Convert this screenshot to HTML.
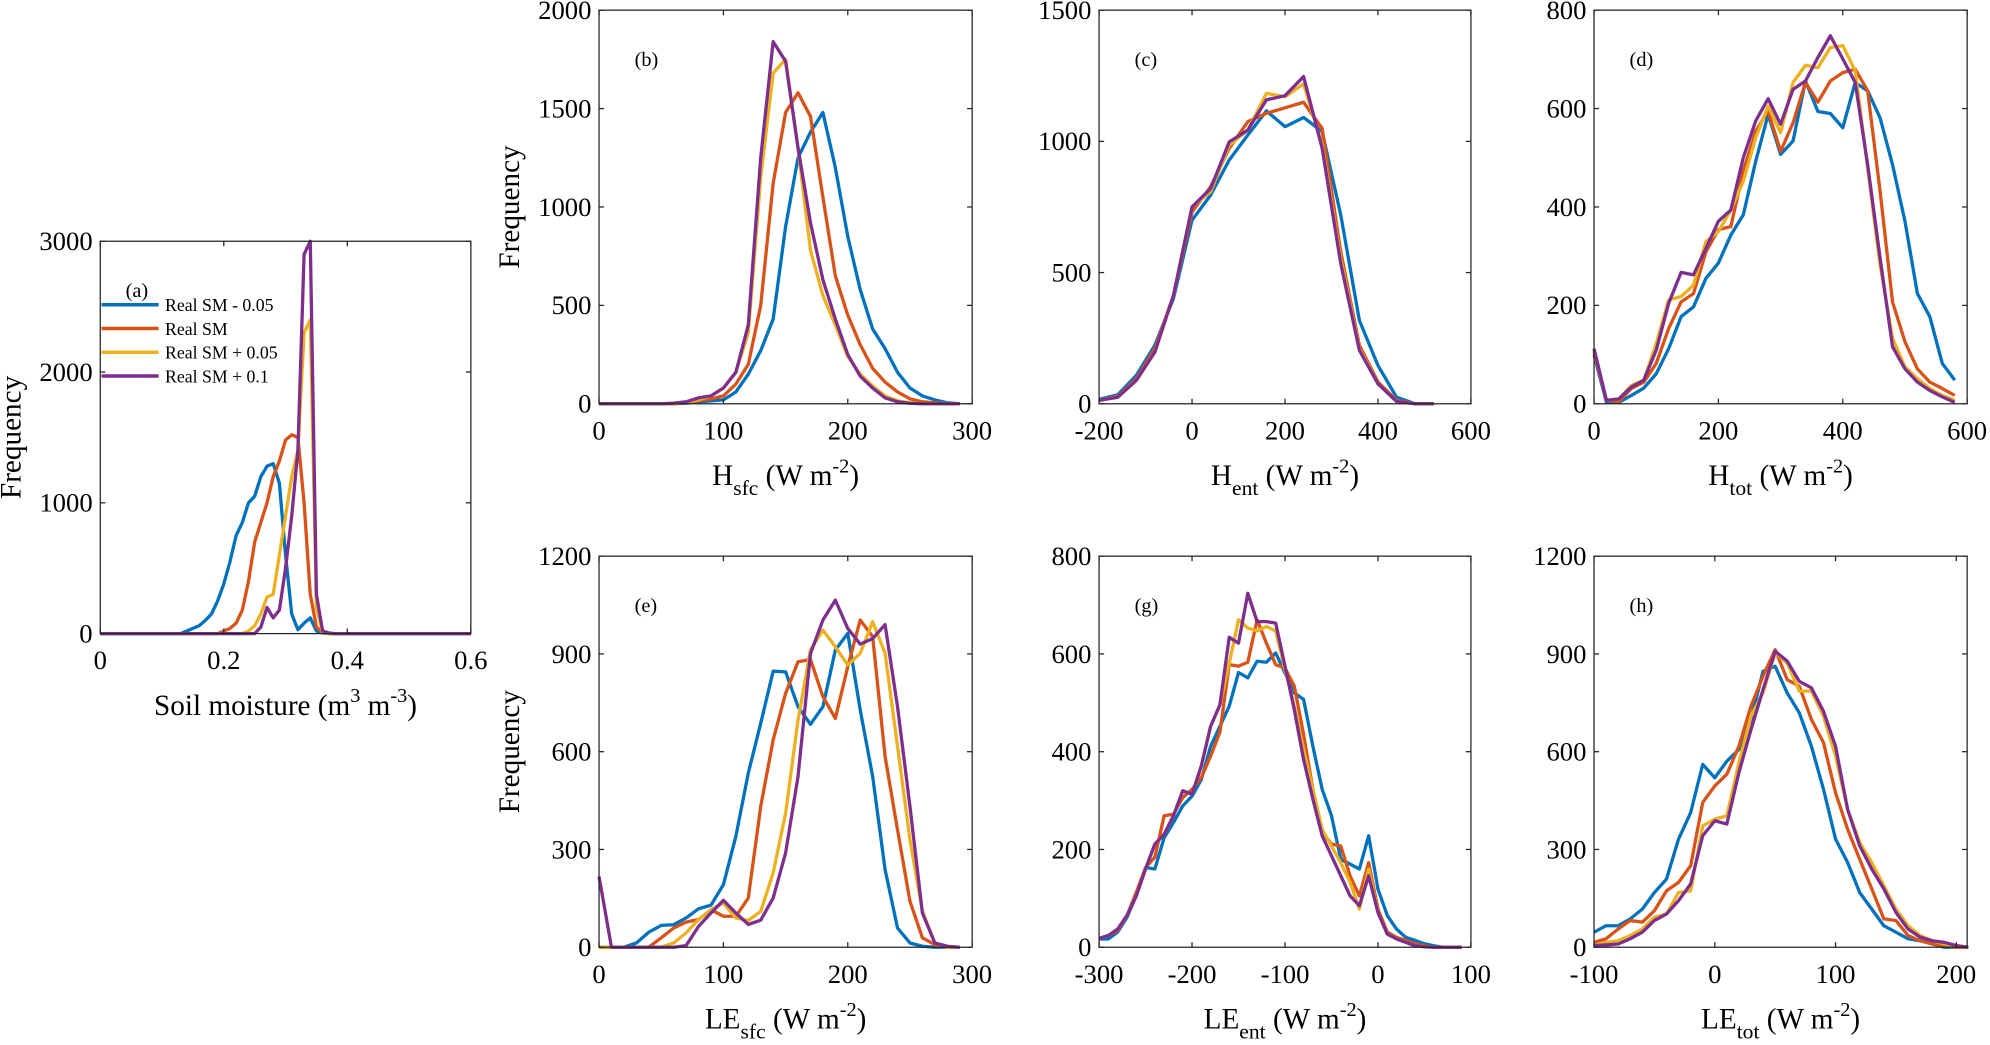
<!DOCTYPE html>
<html><head><meta charset="utf-8"><style>
html,body{margin:0;padding:0;background:#fff;}
svg{display:block;font-family:"Liberation Serif",serif;}
</style></head><body>
<svg id="fig" width="1990" height="1045" viewBox="0 0 1568 823" preserveAspectRatio="none" xmlns="http://www.w3.org/2000/svg"></svg>
<script>
// ---- data ----
const aX = [];for(let i=0;i<=60;i++)aX.push(i/100);
const aBlueK = {14:20,15:40,16:60,17:100,18:150,19:250,20:380,21:550,22:750,23:850,24:1000,25:1050,26:1200,27:1280,28:1300,29:1150,30:600,31:150,32:30,33:80,34:120,35:20,36:5};
const aOrangeK = {20:20,21:40,22:80,23:180,24:400,25:700,26:850,27:1000,28:1200,29:1320,30:1480,31:1520,32:1500,33:1000,34:300,35:50,36:10};
const aYellowK = {24:20,25:60,26:150,27:280,28:300,29:600,30:900,31:1200,32:1400,33:2300,34:2400,35:200,36:10};
const aPurpleK = {26:50,27:200,28:120,29:180,30:500,31:900,32:1400,33:2900,34:3000,35:300,36:20,37:5};

const bX = [0,10,20,30,40,50,60,70,80,90,100,110,120,130,140,150,160,170,180,190,200,210,220,230,240,250,260,270,280,290];
const bBlue = [0,0,0,0,0,0,0,3,10,15,20,60,150,270,430,900,1250,1380,1480,1200,850,580,380,280,160,80,40,20,5,0];
const bOrange = [0,0,0,0,0,0,0,5,15,25,40,100,200,500,1120,1480,1580,1460,1050,650,450,300,180,110,60,25,10,5,0,0];
const bYellow = [0,0,0,0,0,0,0,8,20,40,80,160,360,1150,1680,1750,1300,780,550,400,240,150,90,40,15,5,0,0,0,0];
const bPurple = [0,0,0,0,0,0,3,10,30,40,80,160,400,1250,1840,1740,1300,920,630,430,250,140,80,30,10,2,0,0,0,0];

const cX = [-200,-160,-120,-80,-40,0,40,80,120,160,200,240,280,320,360,400,440,480,520];
const cBlue = [17,34,108,223,401,700,795,929,1024,1116,1056,1091,1037,719,318,146,25,0,0];
const cOrange = [13,28,95,210,413,731,827,973,1075,1107,1128,1149,1049,579,223,83,13,0,0];
const cYellow = [13,25,89,197,413,750,808,986,1043,1183,1170,1219,986,553,210,76,9,0,0];
const cPurple = [13,25,89,197,413,750,820,998,1043,1158,1174,1247,973,534,204,76,9,0,0];

const dX = [0,20,40,60,80,100,120,140,160,180,200,220,240,260,280,300,320,340,360,380,400,420,440,460,480,500,520,540,560,580];
const dBlue = [99,3,3,17,32,61,112,177,197,255,286,343,384,493,588,507,534,656,594,590,561,653,636,581,486,371,224,177,82,48];
const dOrange = [105,7,5,31,44,82,153,207,224,309,354,360,473,554,595,513,571,653,613,656,673,680,636,432,207,126,71,44,31,17];
const dYellow = [109,7,10,37,48,122,211,218,241,330,350,394,452,541,605,551,653,688,683,724,728,677,479,282,133,75,51,31,17,7];
const dPurple = [112,7,10,34,48,109,204,267,262,316,371,394,500,575,620,568,639,656,704,748,701,653,486,296,116,71,44,27,14,3];

const eX = [0,10,20,30,40,50,60,70,80,90,100,110,120,130,140,150,160,170,180,190,200,210,220,230,240,250,260,270,280,290];
const eBlue = [0,0,0,13,46,67,69,90,118,129,192,340,534,687,847,845,738,684,738,912,963,728,524,238,59,13,3,0,0,0];
const eOrange = [0,0,0,0,0,29,59,77,85,115,95,95,151,432,636,779,876,883,769,702,861,1004,953,585,360,141,29,8,0,0];
const eYellow = [0,0,0,0,0,0,13,44,85,115,136,90,82,110,228,411,697,912,973,922,866,902,999,902,616,330,110,13,0,0];
const ePurple = [217,0,0,0,0,0,0,5,64,105,144,105,70,83,151,289,524,901,1004,1065,978,930,947,990,738,432,105,13,3,0];

const gX = [-300,-290,-280,-270,-260,-250,-240,-230,-220,-210,-200,-190,-180,-170,-160,-150,-140,-130,-120,-110,-100,-90,-80,-70,-60,-50,-40,-30,-20,-10,0,10,20,30,40,50,60,70,80,90];
const gBlue = [17,17,31,61,105,163,160,224,255,289,309,343,411,452,493,562,551,585,583,602,561,520,507,411,323,269,180,170,160,228,119,65,37,20,14,7,3,0,0,0];
const gOrange = [18,24,34,65,112,163,184,269,272,306,323,347,391,440,578,575,583,670,622,578,571,534,435,323,235,211,207,146,105,173,78,31,20,14,7,3,0,0,0,0];
const gYellow = [18,24,37,65,105,160,211,231,269,320,313,371,452,496,581,670,653,647,656,647,568,493,405,323,241,207,173,133,78,160,71,27,17,10,3,1,0,0,0,0];
const gPurple = [18,24,37,65,105,160,211,231,269,320,313,371,452,496,634,622,724,666,666,663,575,486,384,303,228,187,146,105,85,146,71,27,17,10,3,1,0,0,0,0];

const hX = [-100,-90,-80,-70,-60,-50,-40,-30,-20,-10,0,10,20,30,40,50,60,70,80,90,100,110,120,130,140,150,160,170,180,190,200,210];
const hBlue = [46,66,66,87,117,168,209,332,413,561,520,571,607,699,847,862,780,719,617,485,332,260,168,117,66,46,26,20,10,0,0,0];
const hOrange = [15,26,56,82,77,112,173,199,250,444,495,531,617,740,832,913,821,801,699,628,474,362,270,179,87,82,36,20,10,5,0,0];
const hYellow = [5,15,20,36,56,92,102,168,173,372,393,403,566,709,781,903,872,786,786,709,587,423,321,260,189,117,66,36,20,10,5,0];
const hPurple = [5,7,10,26,46,82,102,143,194,342,388,378,536,668,791,908,878,816,796,724,617,423,311,240,179,107,56,31,20,15,5,0];

const seriesNames = ["Real SM - 0.05","Real SM","Real SM + 0.05","Real SM + 0.1"];
const colors = ["#0072BD","#D95319","#EDB120","#7E2F8E"];

function expand(k){return aX.map((x,i)=>k[i]||0);}
const aBlue=expand(aBlueK),aOrange=expand(aOrangeK),aYellow=expand(aYellowK),aPurple=expand(aPurpleK);

// ---- drawing ----
const svg=document.getElementById('fig');
const NS='http://www.w3.org/2000/svg';
function el(tag,attrs,parent){const e=document.createElementNS(NS,tag);for(const k in attrs)e.setAttribute(k,attrs[k]);(parent||svg).appendChild(e);return e;}

function panel(p){
  const g=el('g',{});
  
  
  const sx=v=>p.x0+(v-p.xmin)/(p.xmax-p.xmin)*(p.x1-p.x0);
  const sy=v=>p.y1-(v-p.ymin)/(p.ymax-p.ymin)*(p.y1-p.y0);
  p.series.forEach((s,i)=>{
    const pts=p.xs.map((x,j)=>sx(x).toFixed(2)+','+sy(s[j]).toFixed(2)).join(' ');
    const pl=el('polyline',{points:pts,fill:'none',stroke:colors[i],'stroke-width':2.6,'stroke-linejoin':'round'},g);
    
    
  });
  const box=el('rect',{x:p.x0,y:p.y0,width:p.x1-p.x0,height:p.y1-p.y0,fill:'none',stroke:'#262626','stroke-width':1},g);
  
  
  p.xt.forEach(t=>{
    const X=sx(t);
    el('line',{x1:X,x2:X,y1:p.y1,y2:p.y1-4,stroke:'#262626','stroke-width':1},g);
    el('line',{x1:X,x2:X,y1:p.y0,y2:p.y0+4,stroke:'#262626','stroke-width':1},g);
    const tx=el('text',{x:X,y:p.y1+28,'font-size':21,'text-anchor':'middle',fill:'#000'},g);
    tx.textContent=String(t);
    
    
  });
  p.yt.forEach(t=>{
    const Y=sy(t);
    el('line',{x1:p.x0,x2:p.x0+4,y1:Y,y2:Y,stroke:'#262626','stroke-width':1},g);
    el('line',{x1:p.x1,x2:p.x1-4,y1:Y,y2:Y,stroke:'#262626','stroke-width':1},g);
    const ty=el('text',{x:p.x0-6,y:Y+7,'font-size':21,'text-anchor':'end',fill:'#000'},g);
    ty.textContent=String(t);
    
    
  });
  const lt=el('text',{x:p.x0+p.lx,y:p.y0+44,'font-size':16,fill:'#000'},g);
  lt.textContent='('+p.id+')';
  
  
  const xl=el('text',{x:(p.x0+p.x1)/2,y:p.y1+64,'font-size':23,'text-anchor':'middle',fill:'#000'},g);
  xl.innerHTML=p.xlabel;
  
  
  if(p.ylab){
    const cy=(p.y0+p.y1)/2, cx=p.x0-63;
    const yl=el('text',{x:cx,y:cy,'font-size':23,'text-anchor':'middle',transform:'rotate(-90 '+cx+' '+cy+')',fill:'#000'},g);
    yl.textContent='Frequency';
    
    
  }
  return g;
}
function unit(main,sub){return main+'<tspan font-size="17" dy="8">'+sub+'</tspan><tspan dy="-8"> (W m</tspan><tspan font-size="16" dy="-10">-2</tspan><tspan dy="10">)</tspan>';}

panel({id:'a',x0:79,x1:371,y0:190,y1:499,xmin:0,xmax:0.6,ymin:0,ymax:3000,xs:aX,series:[aBlue,aOrange,aYellow,aPurple],
  xt:[0,0.2,0.4,0.6],yt:[0,1000,2000,3000],lx:20,ylab:true,
  xlabel:'Soil moisture (m<tspan font-size="16" dy="-10">3</tspan><tspan dy="10"> m</tspan><tspan font-size="16" dy="-10">-3</tspan><tspan dy="10">)</tspan>'});
panel({id:'b',x0:472,x1:766,y0:8,y1:318,xmin:0,xmax:300,ymin:0,ymax:2000,xs:bX,series:[bBlue,bOrange,bYellow,bPurple],
  xt:[0,100,200,300],yt:[0,500,1000,1500,2000],lx:28,ylab:true,xlabel:unit('H','sfc')});
panel({id:'c',x0:866,x1:1159,y0:8,y1:318,xmin:-200,xmax:600,ymin:0,ymax:1500,xs:cX,series:[cBlue,cOrange,cYellow,cPurple],
  xt:[-200,0,200,400,600],yt:[0,500,1000,1500],lx:28,xlabel:unit('H','ent')});
panel({id:'d',x0:1256,x1:1550,y0:8,y1:318,xmin:0,xmax:600,ymin:0,ymax:800,xs:dX,series:[dBlue,dOrange,dYellow,dPurple],
  xt:[0,200,400,600],yt:[0,200,400,600,800],lx:28,xlabel:unit('H','tot')});
panel({id:'e',x0:472,x1:766,y0:438,y1:746,xmin:0,xmax:300,ymin:0,ymax:1200,xs:eX,series:[eBlue,eOrange,eYellow,ePurple],
  xt:[0,100,200,300],yt:[0,300,600,900,1200],lx:28,ylab:true,xlabel:unit('LE','sfc')});
panel({id:'g',x0:866,x1:1159,y0:438,y1:746,xmin:-300,xmax:100,ymin:0,ymax:800,xs:gX,series:[gBlue,gOrange,gYellow,gPurple],
  xt:[-300,-200,-100,0,100],yt:[0,200,400,600,800],lx:28,xlabel:unit('LE','ent')});
panel({id:'h',x0:1256,x1:1550,y0:438,y1:746,xmin:-100,xmax:209,ymin:0,ymax:1200,xs:hX,series:[hBlue,hOrange,hYellow,hPurple],
  xt:[-100,0,100,200],yt:[0,300,600,900,1200],lx:28,xlabel:unit('LE','tot')});

const lg=el('g',{});


seriesNames.forEach((n,i)=>{
  const y=240+i*18.7;
  const ln=el('line',{x1:80,x2:125,y1:y,y2:y,stroke:colors[i],'stroke-width':2.8},lg);
  
  
  const t=el('text',{x:130,y:y+5,'font-size':14,fill:'#000'},lg);
  t.textContent=n;
  
  
});
</script>
</body></html>
